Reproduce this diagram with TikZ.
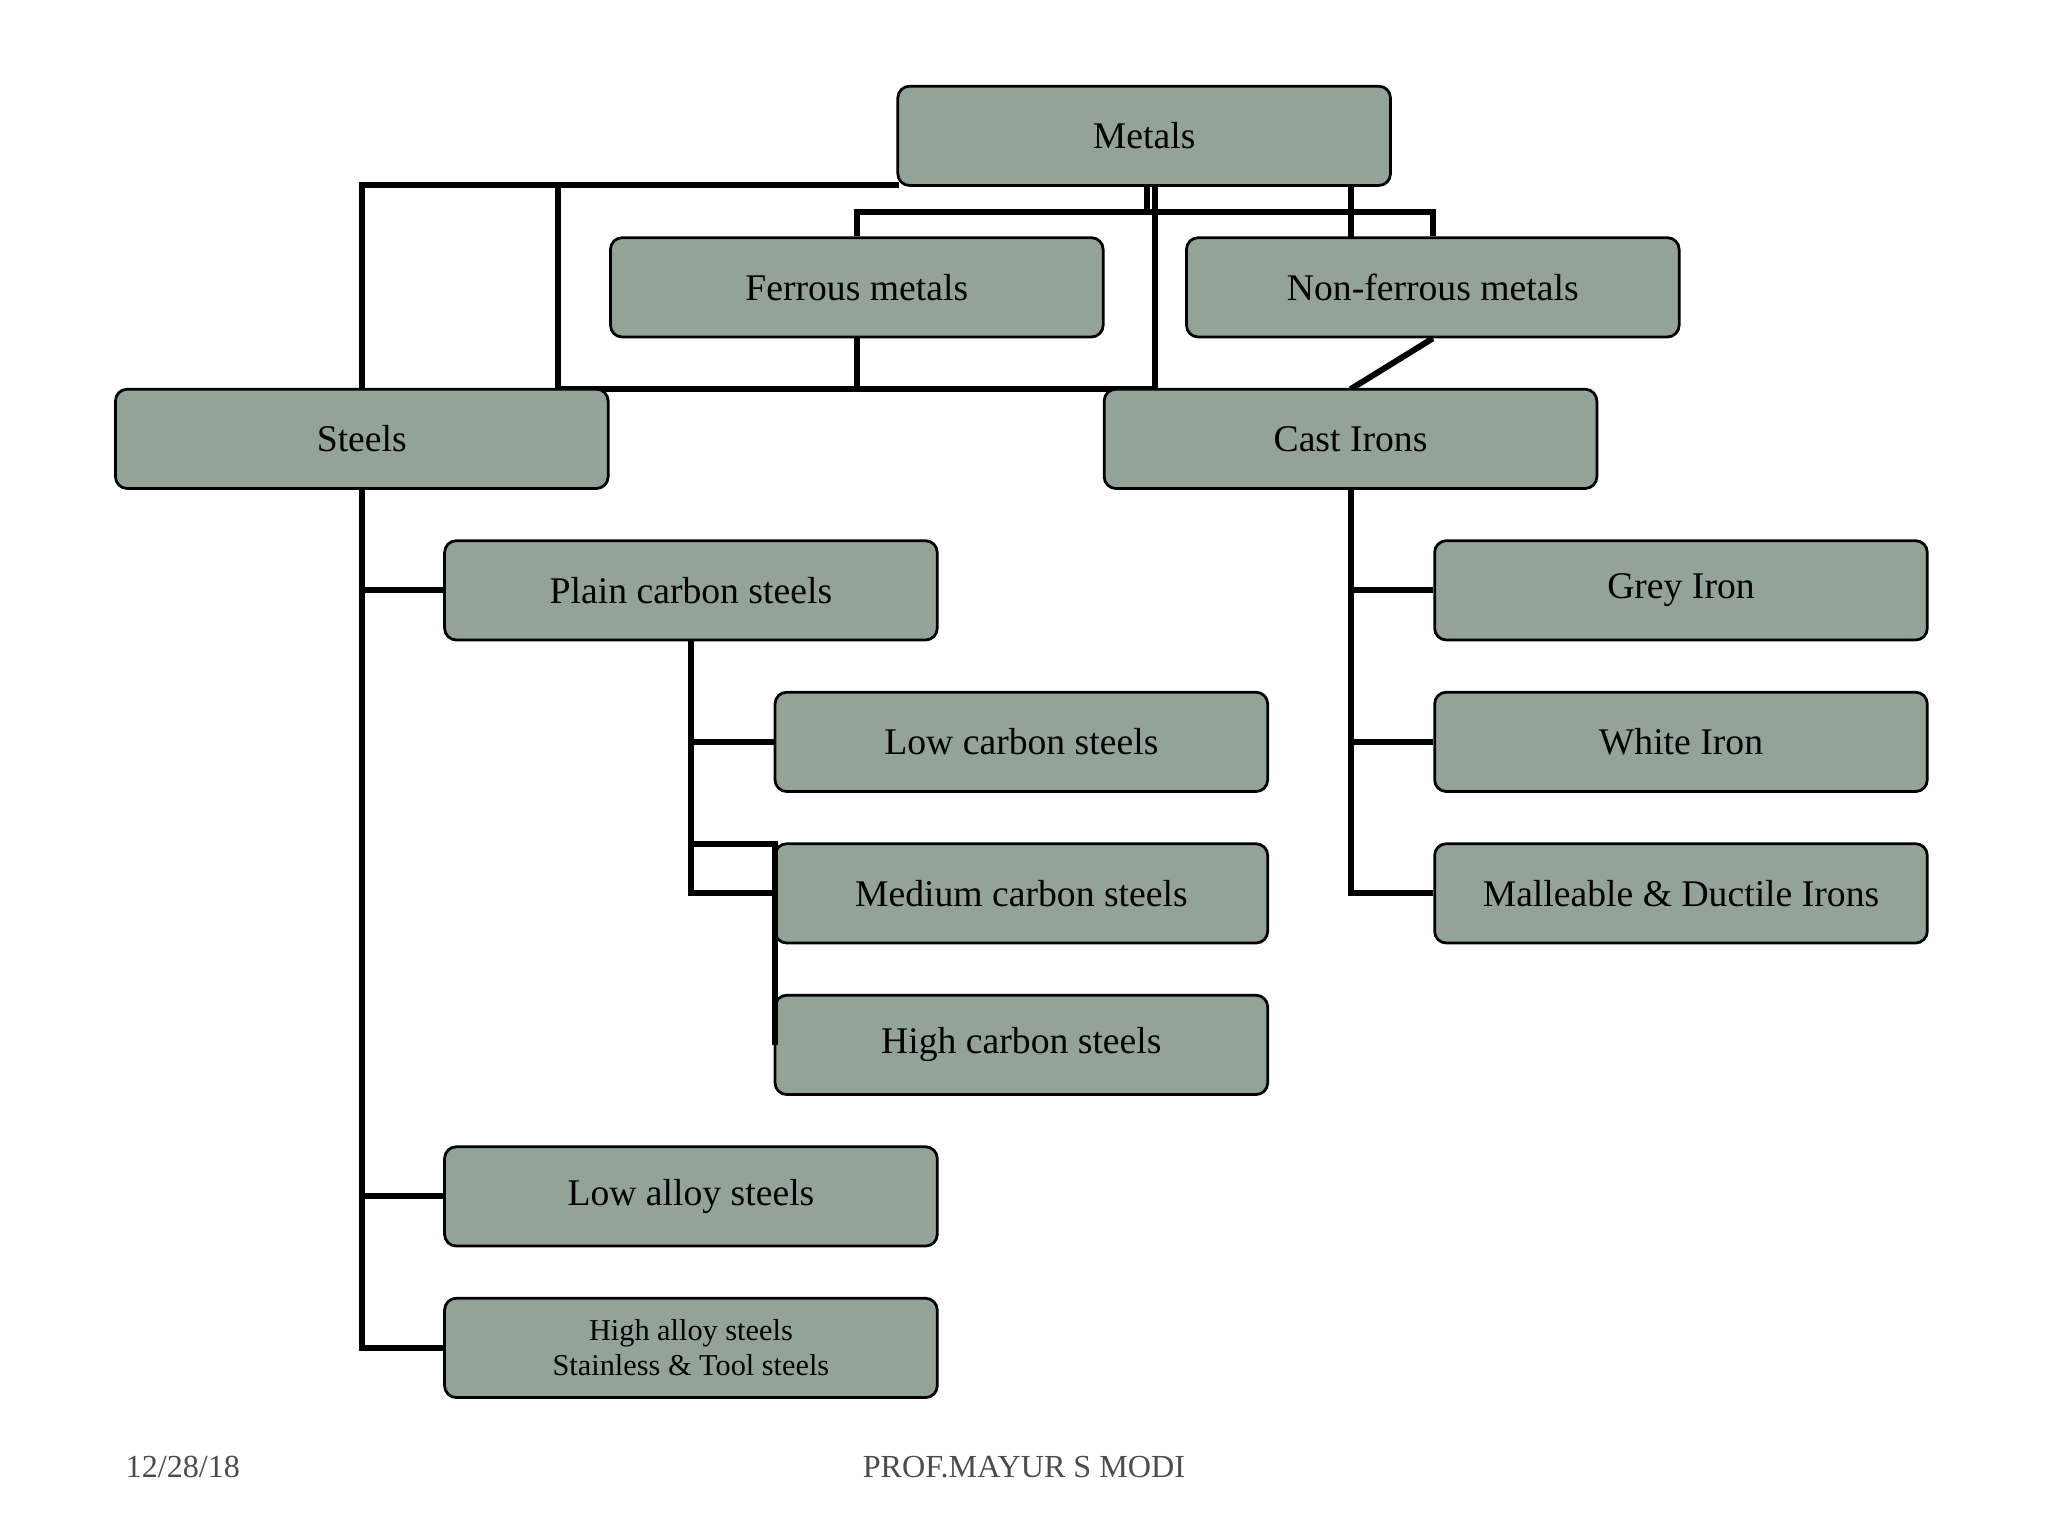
\documentclass[tikz,border=0pt]{standalone}
\usepackage{fontspec}
\setmainfont{Liberation Serif}
\begin{document}
\begin{tikzpicture}[x=0.01cm,y=-0.01cm,
  box/.style={draw=black,line width=0.6pt,rounded corners=0.09cm,fill=boxc,minimum width=3.77cm,minimum height=0.76cm,font=\fontsize{8.2}{9}\selectfont,inner sep=0pt},
  ln/.style={line width=1.3pt}]
\definecolor{boxc}{HTML}{93A397}
\useasboundingbox (0,0) rectangle (1568,1176);
% connectors first
\coordinate (a1) at (277,142); \coordinate (a2) at (427,142); \coordinate (a3) at (688,142);
\coordinate (b1) at (427,298); \coordinate (b2) at (884,298); \coordinate (b3) at (884,142);
\coordinate (c1) at (656,162); \coordinate (c2) at (1097,162); \coordinate (c3) at (878,142); \coordinate (c4) at (878,162);
\coordinate (d1) at (1034,142); \coordinate (d2) at (656,298);
\coordinate (p1) at (529,646); \coordinate (p2) at (593,646); \coordinate (p3) at (593,800);
\node[box] (metals) at (876,104) {Metals};
\node[box] (ferrous) at (656,220) {Ferrous metals};
\node[box] (nonf) at (1097,220) {Non-ferrous metals};
\begin{scope}[on background layer/.style={}]
\end{scope}
\draw[ln] (a3) -- (a1) -- (277,298);
\draw[ln] (a2) -- (b1) -- (b2) -- (b3);
\draw[ln] (c3) -- (c4); \draw[ln] (ferrous.north) -- (c1) -- (c2) -- (nonf.north);
\draw[ln] (d1) -- (1034,182);
\draw[ln] (ferrous.south) -- (d2);
\draw[ln] (nonf.south) -- (1034,298);
\node[box] (steels) at (277,336) {Steels};
\node[box] (cast) at (1034,336) {Cast Irons};
\node[box] (plain) at (529,452) {Plain carbon steels};
\node[box] (lowc) at (782,568) {Low carbon steels};
\node[box] (medc) at (782,684) {Medium carbon steels};
\node[box] (highc) at (782,800) {High carbon steels};
\node[box] (lowa) at (529,916) {Low alloy steels};
\node[box,align=center,font=\fontsize{6.6}{7.6}\selectfont] (higha) at (529,1032) {High alloy steels\\Stainless \& Tool steels};
\node[box] (grey) at (1287,452) {Grey Iron};
\node[box] (white) at (1287,568) {White Iron};
\node[box] (mall) at (1287,684) {Malleable \& Ductile Irons};
\draw[ln] (steels.south) -- (steels.south |- higha.west) -- (higha.west);
\draw[ln] (steels.south |- plain.west) -- (plain.west);
\draw[ln] (steels.south |- lowa.west) -- (lowa.west);
\draw[ln] (plain.south) -- (plain.south |- medc.west) -- (medc.west);
\draw[ln] (plain.south |- lowc.west) -- (lowc.west);
\draw[ln] (p1) -- (p2) -- (p3);
\draw[ln] (cast.south) -- (cast.south |- mall.west) -- (mall.west);
\draw[ln] (cast.south |- grey.west) -- (grey.west);
\draw[ln] (cast.south |- white.west) -- (white.west);
\node[font=\fontsize{7}{8}\selectfont,text=black!70] (date) at (140,1123) {12/28/18};
\node[font=\fontsize{7}{8}\selectfont,text=black!70] (auth) at (784,1123) {PROF.MAYUR S MODI};
\end{tikzpicture}
\end{document}
